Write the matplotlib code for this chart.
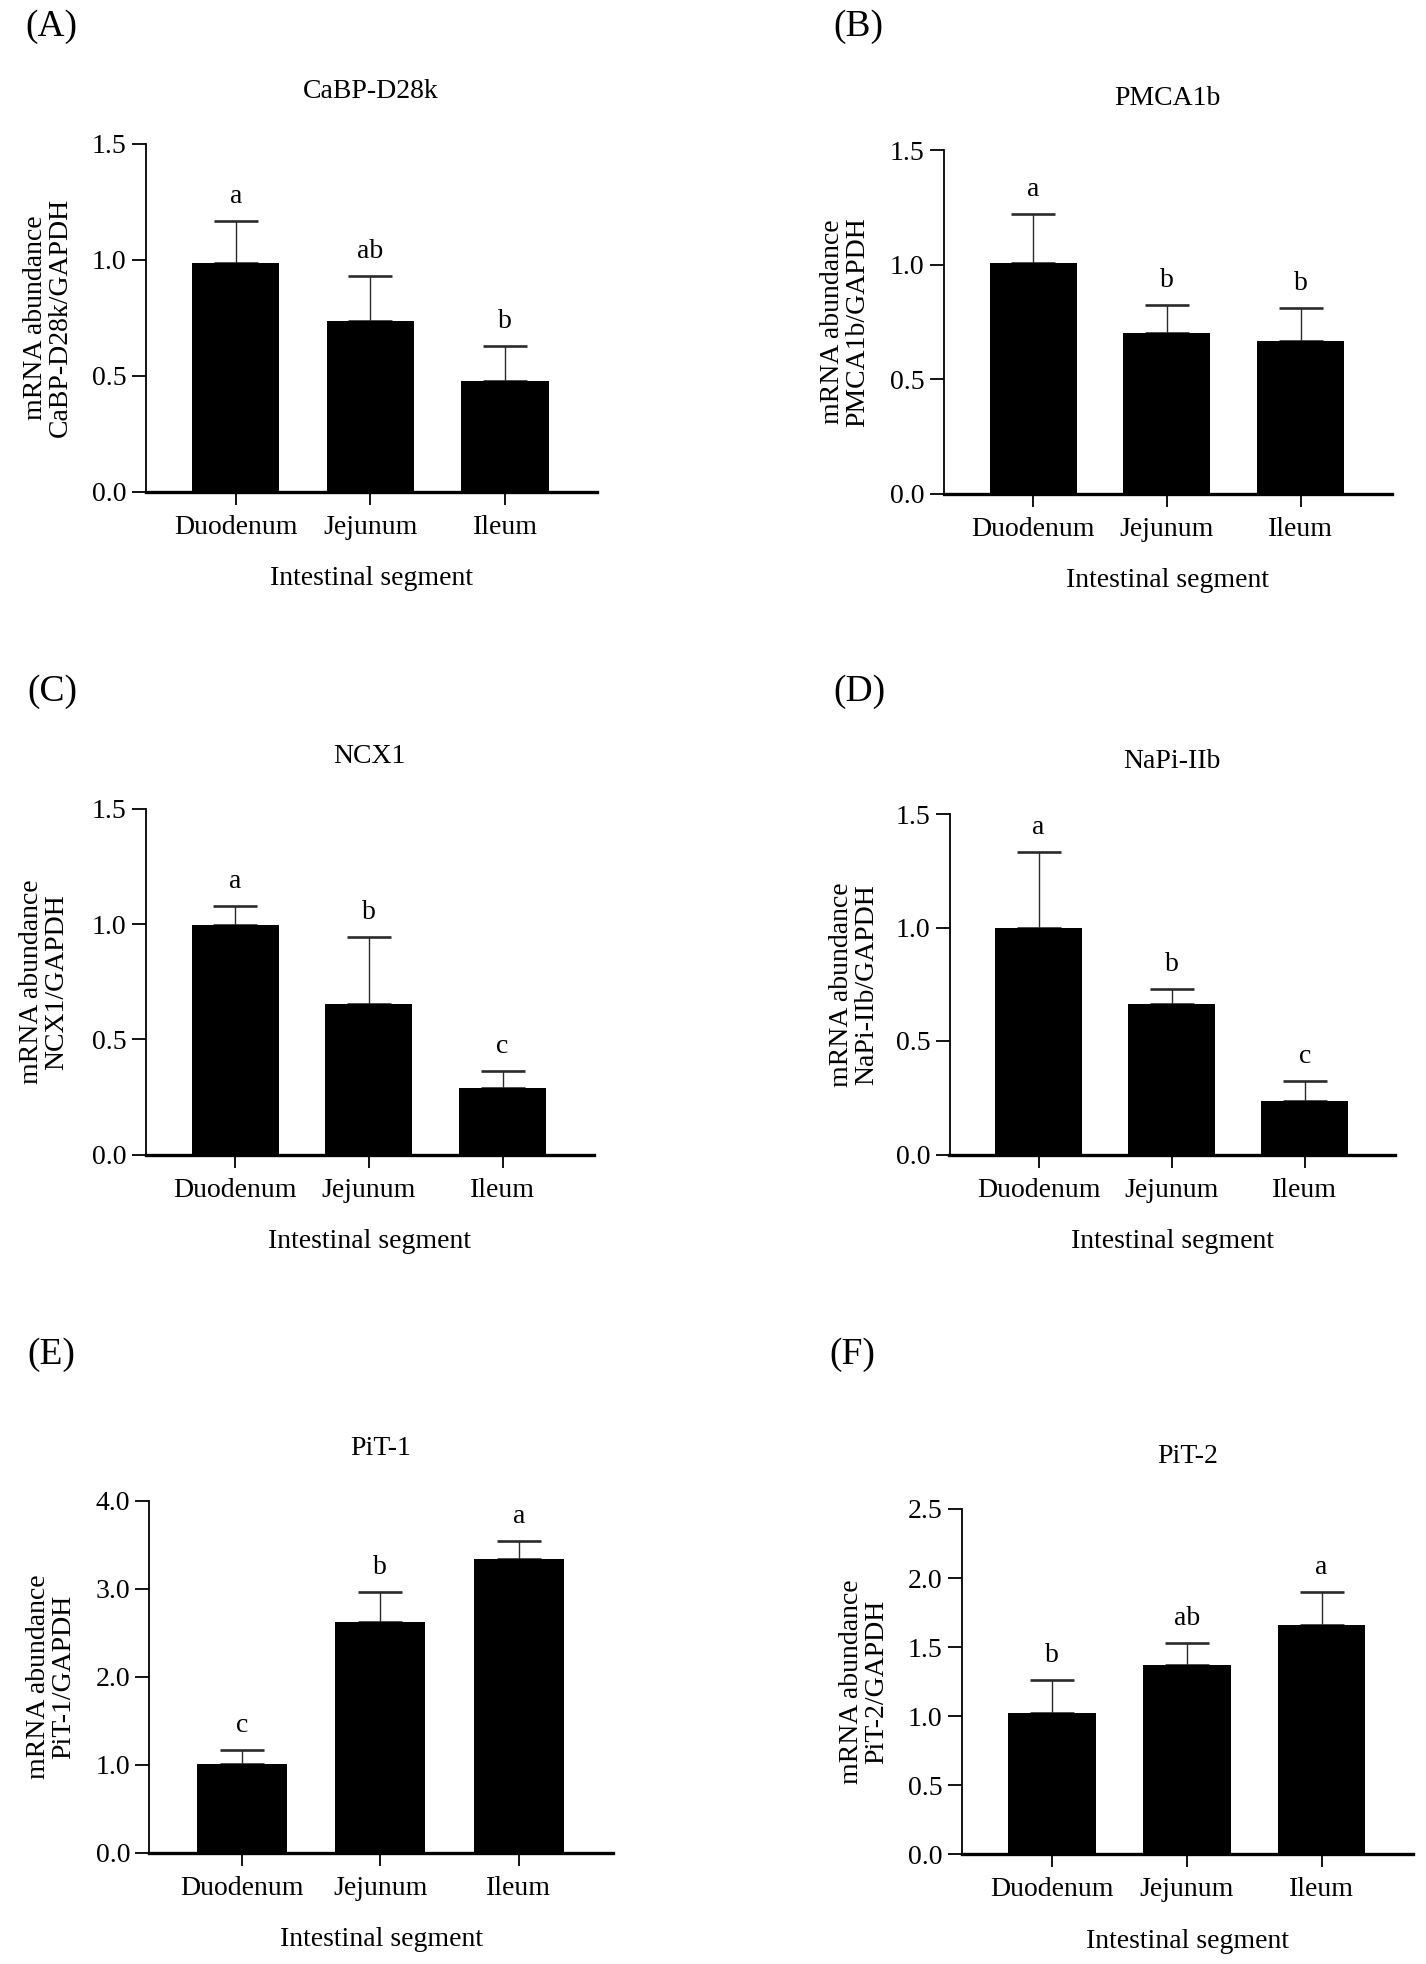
import matplotlib
matplotlib.use('Agg')
import matplotlib.pyplot as plt
import numpy as np

# data (mean and upper SD bar per segment)
segments = ['Duodenum', 'Jejunum', 'Ileum']

cabp_mean = [0.987, 0.737, 0.475]
cabp_sd = [0.178, 0.194, 0.153]
cabp_letters = ['a', 'ab', 'b']

pmca_mean = [1.010, 0.704, 0.666]
pmca_sd = [0.211, 0.120, 0.145]
pmca_letters = ['a', 'b', 'b']

ncx_mean = [0.996, 0.652, 0.289]
ncx_sd = [0.083, 0.293, 0.074]
ncx_letters = ['a', 'b', 'c']

napi_mean = [0.999, 0.661, 0.234]
napi_sd = [0.332, 0.067, 0.090]
napi_letters = ['a', 'b', 'c']

pit1_mean = [1.005, 2.621, 3.336]
pit1_sd = [0.168, 0.342, 0.211]
pit1_letters = ['c', 'b', 'a']

pit2_mean = [1.026, 1.367, 1.662]
pit2_sd = [0.234, 0.161, 0.238]
pit2_letters = ['b', 'ab', 'a']

ticks_small = [0.0, 0.5, 1.0, 1.5]
ticks_pit1 = [0.0, 1.0, 2.0, 3.0, 4.0]
ticks_pit2 = [0.0, 0.5, 1.0, 1.5, 2.0, 2.5]

panels = [
    ('(A)', 'CaBP-D28k', cabp_mean, cabp_sd, cabp_letters, ticks_small),
    ('(B)', 'PMCA1b', pmca_mean, pmca_sd, pmca_letters, ticks_small),
    ('(C)', 'NCX1', ncx_mean, ncx_sd, ncx_letters, ticks_small),
    ('(D)', 'NaPi-IIb', napi_mean, napi_sd, napi_letters, ticks_small),
    ('(E)', 'PiT-1', pit1_mean, pit1_sd, pit1_letters, ticks_pit1),
    ('(F)', 'PiT-2', pit2_mean, pit2_sd, pit2_letters, ticks_pit2),
]

# layout in pixels: axes (left, top, right, bottom), panel tag (x, y), ylabel centre x
W, H = 1426, 1964
layout = [
    ((145.5, 143.5, 596.6, 491.7), (25, 27), 47.8),
    ((943.6, 150.4, 1391.5, 493.6), (833, 27), 845.0),
    ((145.5, 809.0, 593.5, 1154.5), (27, 692), 44.0),
    ((949.5, 814.0, 1395.1, 1154.5), (833, 692), 854.0),
    ((149.2, 1501.0, 613.0, 1852.7), (27, 1355), 51.0),
    ((961.7, 1509.0, 1413.3, 1854.3), (829, 1355), 864.0),
]

plt.rcParams['font.family'] = ['Liberation Serif', 'DejaVu Serif']

fig = plt.figure(figsize=(W / 100, H / 100), dpi=100)
x = np.arange(len(segments))

for (tag, gene, mean, sd, letters, ticks), (box, tag_pos, ylab_x) in zip(panels, layout):
    l, t, r, b = box
    ax = fig.add_axes([l / W, 1 - b / H, (r - l) / W, (b - t) / H])

    eb = ax.errorbar(x, mean, yerr=[np.zeros(len(sd)), sd], fmt='none',
                     ecolor='#2a2a2a', elinewidth=1.0, capsize=16, capthick=1.9,
                     zorder=1)
    for cap in eb[1]:
        cap.set_color('#6a6a6a')
    ax.bar(x, mean, width=0.65, color='black', zorder=2)

    for xi, m, s, lab in zip(x, mean, sd, letters):
        ax.annotate(lab, (xi, m + s), xytext=(0, 13), textcoords='offset points',
                    ha='center', va='baseline', fontsize=20)

    ax.set_xlim(-0.67, 2.68)
    ax.set_ylim(0, ticks[-1])
    ax.set_yticks(ticks)
    ax.set_yticklabels([f'{v:.1f}' for v in ticks])
    ax.set_xticks(x)
    ax.set_xticklabels(segments)

    ax.spines['top'].set_visible(False)
    ax.spines['right'].set_visible(False)
    ax.spines['left'].set_linewidth(1.3)
    ax.spines['bottom'].set_linewidth(2.4)
    ax.tick_params(axis='x', length=9.6, width=1.3, pad=7, labelsize=20)
    ax.tick_params(axis='y', length=9.8, width=1.3, pad=4, labelsize=20)

    ax.set_title(gene, fontsize=20, pad=33)
    ax.set_xlabel('Intestinal segment', fontsize=20, labelpad=19)
    ax.set_ylabel(f'mRNA abundance\n{gene}/GAPDH', fontsize=20, linespacing=1.0)
    ax.yaxis.set_label_coords((ylab_x - l) / (r - l), 0.5)
    ax.yaxis.label.set_va('center')

    fig.text(tag_pos[0] / W, 1 - tag_pos[1] / H, tag, fontsize=27,
             ha='left', va='center')

fig.savefig('out.png', dpi=100)
